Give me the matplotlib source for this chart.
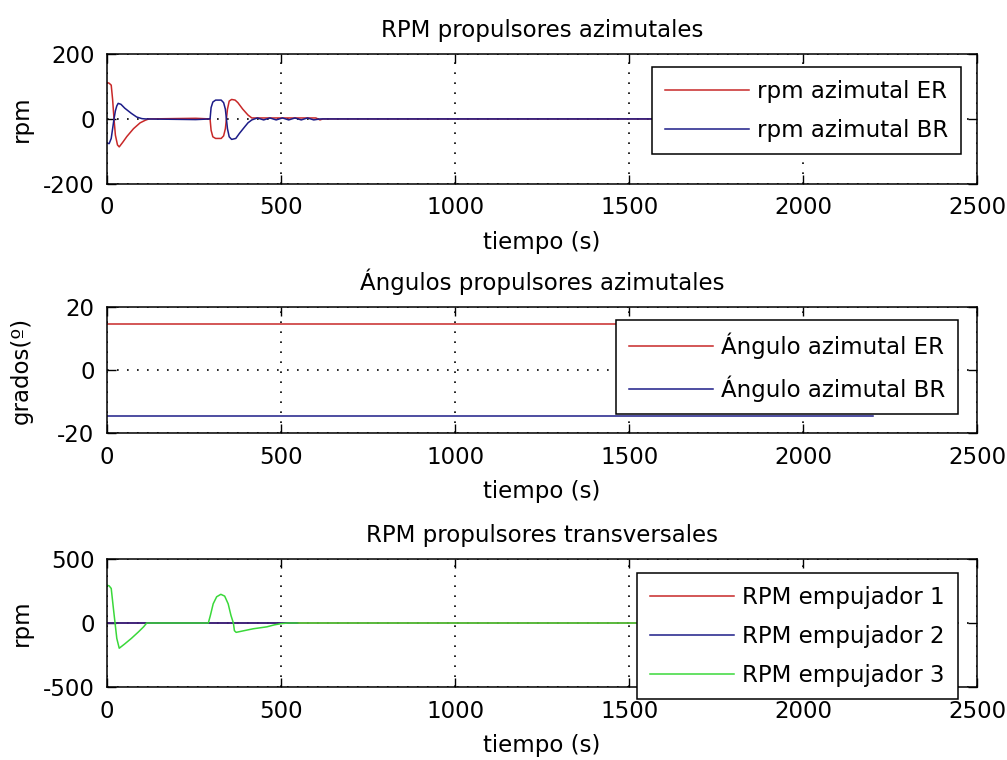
import matplotlib
matplotlib.use("Agg")
import matplotlib.pyplot as plt

# RPM azimutales (t en s, rpm)
t_er = [0, 6, 12, 16, 20, 24, 30, 35, 45, 57, 76, 95, 110, 120, 255, 296, 299, 304, 312, 328, 335, 340, 343,
        346, 351, 358, 368, 376, 390, 405, 416, 600, 612, 620, 2200]
rpm_er = [112, 110, 104, 60, 0, -50, -80, -86, -72, -54, -30, -12, -4, 0, 2, 0, -35, -55, -60, -60, -52, -30, 0,
          30, 55, 60, 58, 50, 30, 12, 3, 3, -3, 0, 0]

t_br = [0, 6, 12, 16, 20, 24, 28, 32, 40, 51, 70, 85, 100, 110, 255, 296, 299, 304, 312, 328, 335, 340, 343,
        346, 351, 358, 370, 380, 395, 405, 416, 432, 450, 468, 486, 504, 522, 540, 558, 576, 594, 612, 2200]
rpm_br = [-74, -76, -60, -30, 0, 25, 40, 48, 45, 33, 17, 6, 1, 0, -2, 0, 35, 52, 58, 58, 50, 30, 0,
          -30, -55, -63, -60, -45, -25, -12, -3, 3, -3, 3, -3, 3, -3, 3, -3, 3, -3, 0, 0]

# Angulos azimutales (grados)
t_ang = [0, 2200]
ang_er = [14.6, 14.6]
ang_br = [-14.6, -14.6]

# RPM transversales
t_e1 = [0, 2200]
rpm_e1 = [0, 0]
t_e2 = [0, 545]
rpm_e2 = [0, 0]
t_e3 = [0, 6, 12, 18, 23, 28, 35, 50, 70, 90, 105, 114, 291, 297, 305, 315, 327, 338, 348, 356,
        363, 366, 371, 390, 420, 459, 480, 500, 520, 2200]
rpm_e3 = [295, 290, 270, 120, 0, -120, -197, -165, -120, -70, -30, 0, 0, 60, 150, 205, 224, 210, 150, 60,
          0, -60, -73, -62, -45, -30, -15, -5, 0, 0]

RED = '#c82828'
BLUE = '#1c1c88'
GREEN = '#3ad83a'
FS = 16.5

plt.rcParams['font.family'] = ['DejaVu Sans']
plt.rcParams['font.size'] = FS
plt.rcParams['axes.unicode_minus'] = False

fig = plt.figure(figsize=(10.07, 7.6), dpi=100)
boxes = [[0.1063, 0.758, 0.864, 0.171],
         [0.1063, 0.430, 0.864, 0.166],
         [0.1063, 0.096, 0.864, 0.1685]]
axs = [fig.add_axes(b) for b in boxes]


def style(ax, ylim, yticks, title, ylabel):
    ax.set_xlim(0, 2500)
    ax.set_ylim(*ylim)
    ax.set_xticks([0, 500, 1000, 1500, 2000, 2500])
    ax.set_yticks(yticks)
    ax.tick_params(direction='in', length=6.5, width=1, top=True, right=True,
                   labelsize=FS, pad=9)
    ax.grid(True, color='black', linestyle=(0, (1, 5)), linewidth=1.2)
    for s in ax.spines.values():
        s.set_linewidth(1.1)
    ax.set_title(title, fontsize=FS, pad=12)
    ax.set_xlabel('tiempo (s)', fontsize=FS, labelpad=8)
    ax.set_ylabel(ylabel, fontsize=FS)
    ax.yaxis.set_label_coords(-0.085, 0.5)


leg_kw = dict(loc='upper left', fancybox=False, framealpha=1, edgecolor='black',
              handlelength=3.7, handletextpad=0.35, labelspacing=0.7, borderpad=0.55,
              borderaxespad=0, fontsize=FS)

ax = axs[0]
ax.plot(t_er, rpm_er, color=RED, lw=1.1, label='rpm azimutal ER')
ax.plot(t_br, rpm_br, color=BLUE, lw=1.1, label='rpm azimutal BR')
style(ax, (-200, 200), [-200, 0, 200], 'RPM propulsores azimutales', 'rpm')
lg = ax.legend(bbox_to_anchor=(0.6475, 0.9118), bbox_transform=fig.transFigure, **leg_kw)
lg.get_frame().set_linewidth(1.1)

ax = axs[1]
ax.plot(t_ang, ang_er, color=RED, lw=1.1, label='Ángulo azimutal ER')
ax.plot(t_ang, ang_br, color=BLUE, lw=1.1, label='Ángulo azimutal BR')
style(ax, (-20, 20), [-20, 0, 20], 'Ángulos propulsores azimutales', 'grados(º)')
lg = ax.legend(bbox_to_anchor=(0.6117, 0.5789), bbox_transform=fig.transFigure, **leg_kw)
lg.get_frame().set_linewidth(1.1)

ax = axs[2]
ax.plot(t_e1, rpm_e1, color=RED, lw=1.1, label='RPM empujador 1')
ax.plot(t_e2, rpm_e2, color=BLUE, lw=1.1, label='RPM empujador 2')
ax.plot(t_e3, rpm_e3, color=GREEN, lw=1.1, label='RPM empujador 3')
style(ax, (-500, 500), [-500, 0, 500], 'RPM propulsores transversales', 'rpm')
lg = ax.legend(bbox_to_anchor=(0.6326, 0.2461), bbox_transform=fig.transFigure, **leg_kw)
lg.get_frame().set_linewidth(1.1)
lg.set_clip_on(False)

fig.savefig('out.png', dpi=100)
